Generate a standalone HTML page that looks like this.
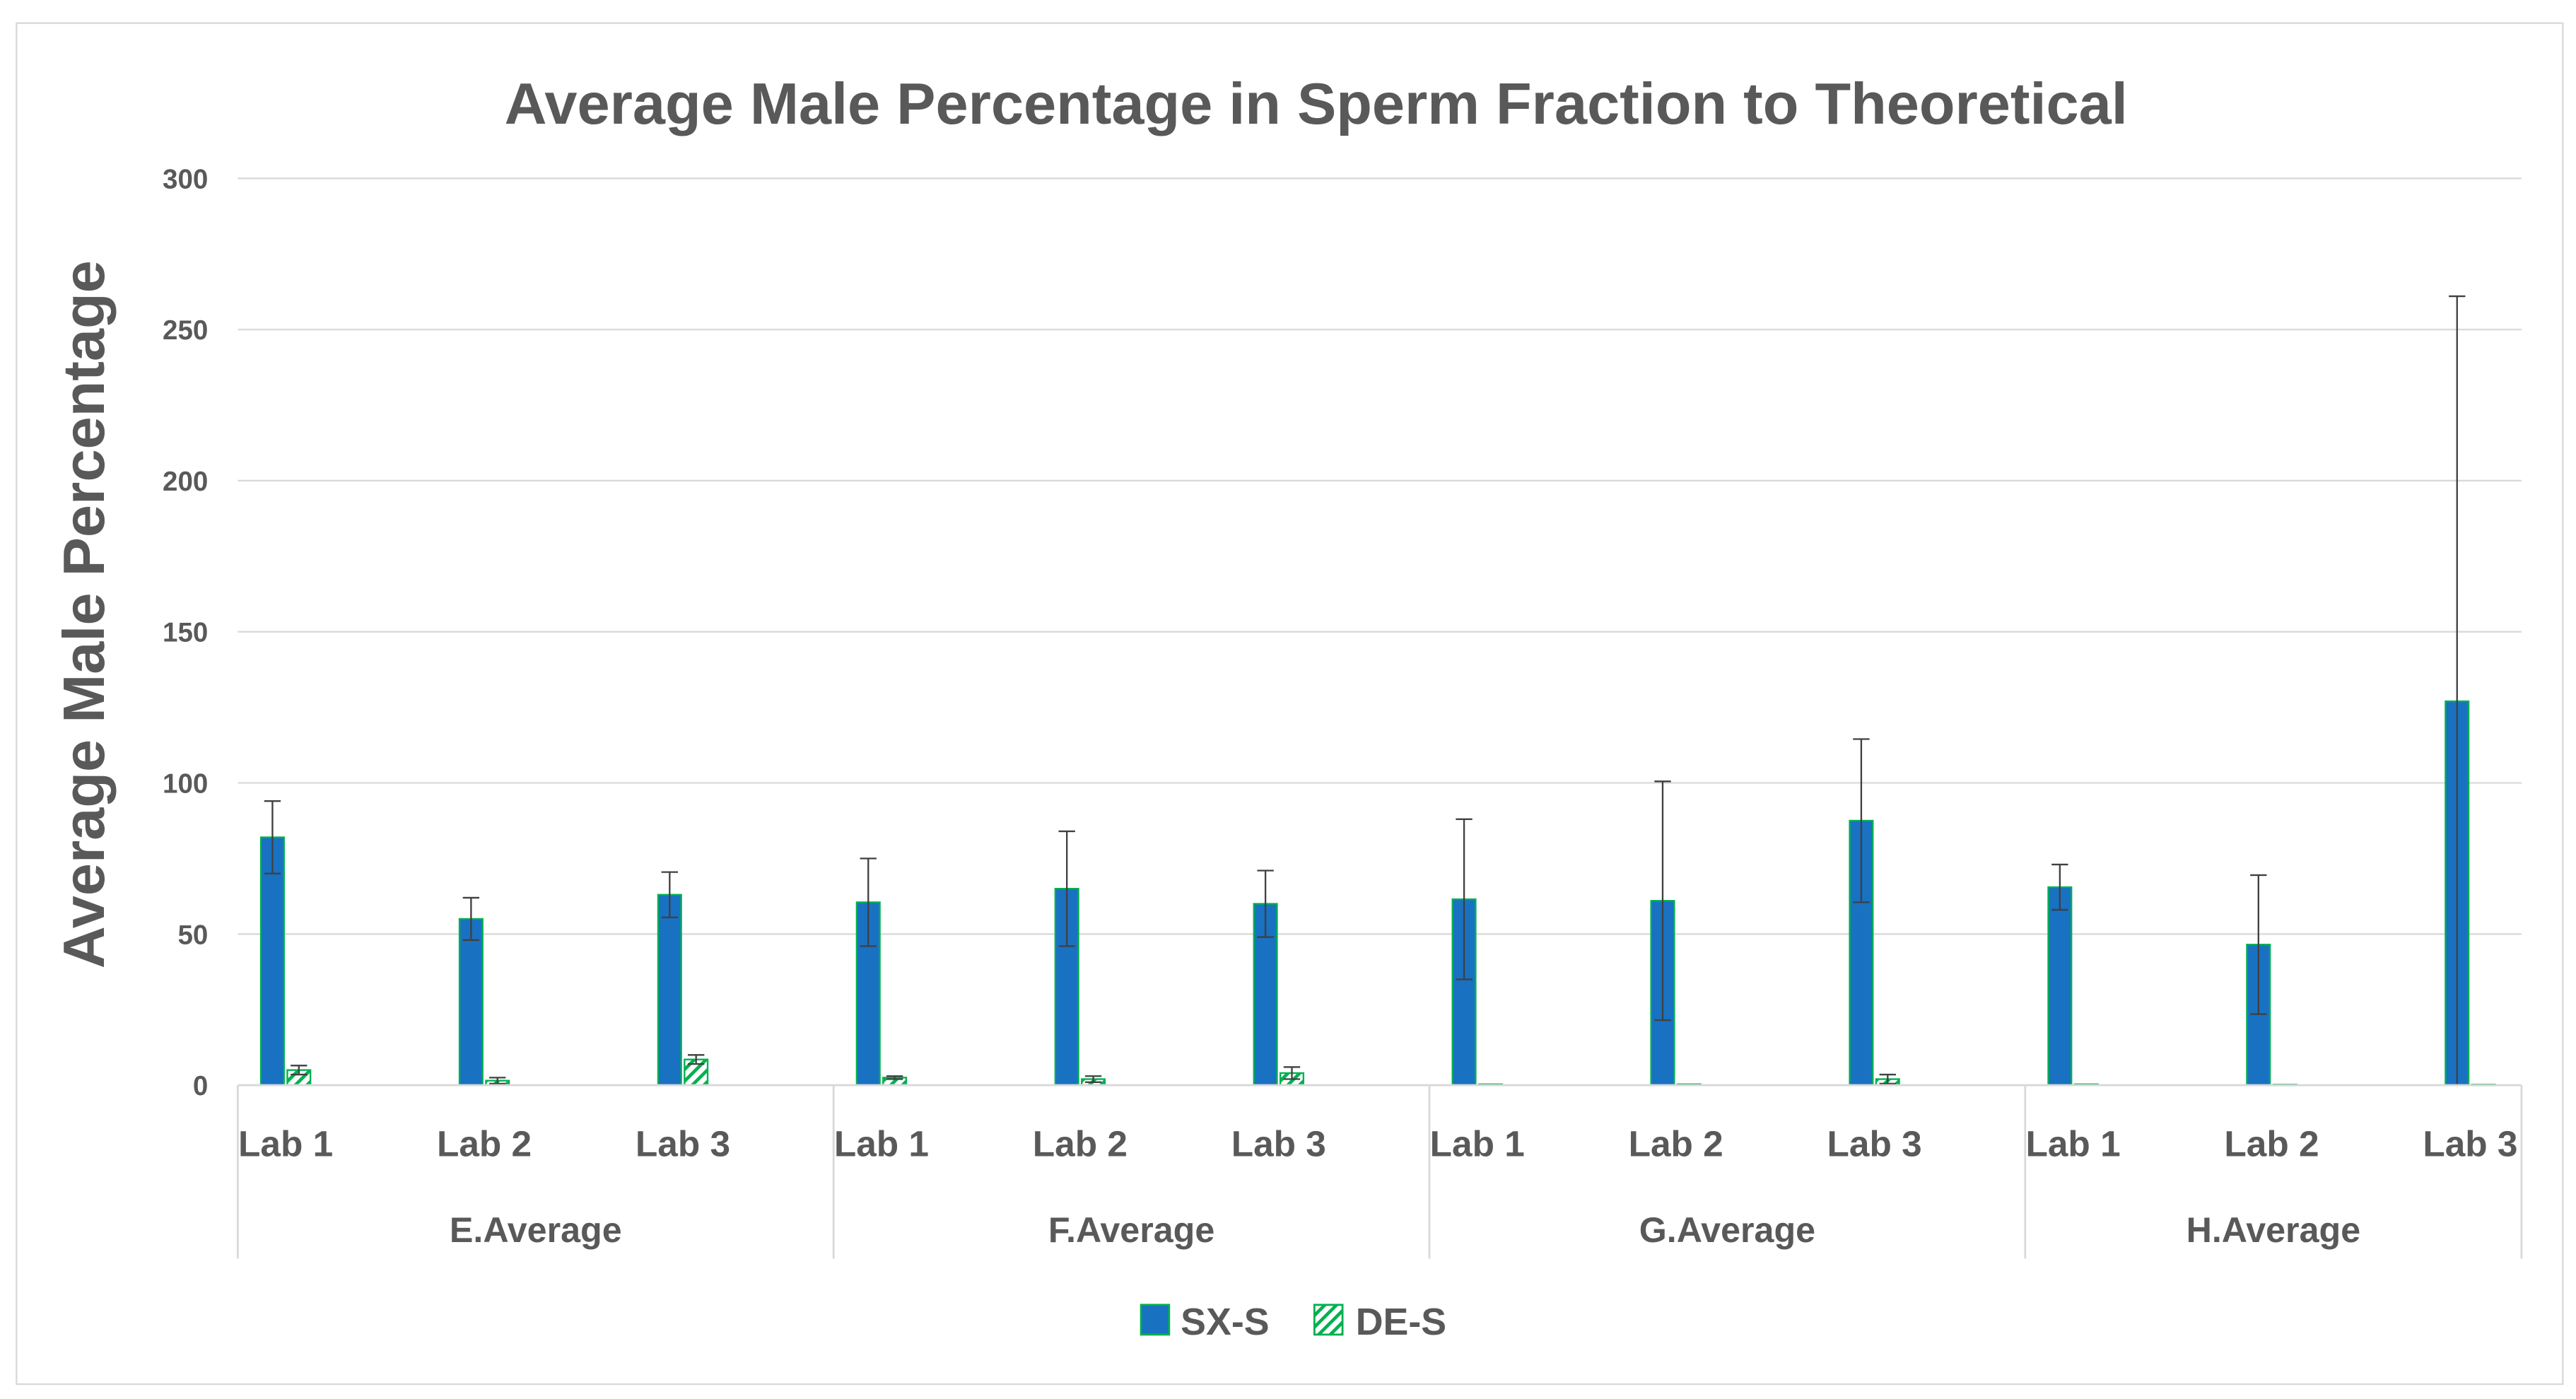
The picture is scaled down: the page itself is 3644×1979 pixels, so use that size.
<!DOCTYPE html>
<html><head><meta charset="utf-8"><style>
html,body{margin:0;padding:0;background:#fff}
svg{display:block}
text{font-family:"Liberation Sans",sans-serif;font-weight:bold;fill:#595959}
</style></head><body>
<svg id="chart" width="3644" height="1979" viewBox="0 0 1560 847" preserveAspectRatio="none" xmlns="http://www.w3.org/2000/svg">
<defs>
<pattern id="hatch" patternUnits="userSpaceOnUse" width="5" height="5" patternTransform="rotate(45)">
<rect width="5" height="5" fill="#fff"/><rect width="2" height="5" fill="#00B050"/>
</pattern>
</defs>
<rect x="10" y="14" width="1542" height="824" fill="#fff" stroke="#d9d9d9" stroke-width="1"/>
<text x="797" y="75" font-size="35.5" text-anchor="middle">Average Male Percentage in Sperm Fraction to Theoretical</text>
<text transform="translate(63,372) rotate(-90)" font-size="35.5" text-anchor="middle">Average Male Percentage</text>
<g id="grid"></g><g id="bars"></g><g id="xaxis"></g>
<g>
<rect x="691" y="790" width="17" height="18" fill="#1971C2" stroke="#00B050" stroke-width="1.2"/>
<text x="715" y="808" font-size="23">SX-S</text>
<rect x="796" y="790" width="17" height="18" fill="url(#hatch)" stroke="#00B050" stroke-width="1.2"/>
<text x="821" y="808" font-size="23">DE-S</text>
</g>
</svg>
<script>
const groups = ["E.Average","F.Average","G.Average","H.Average"];
const labs = ["Lab 1","Lab 2","Lab 3"];
const sxValues = [82,55,63, 60.5,65,60, 61.5,61,87.5, 65.5,46.5,127];
const sxErrors = [12,7,7.5, 14.5,19,11, 26.5,39.5,27, 7.5,23,134];
const deValues = [5,1.5,8.5, 2.5,2,4, 0.3,0.3,2, 0.3,0.2,0.2];
const deErrors = [1.5,1,1.5, 0.5,1,2, 0,0,1.5, 0,0,0];
const yTicks = [0,50,100,150,200,250,300];

const NS="http://www.w3.org/2000/svg";
const L=144,R=1527,T=108,B=657,yMax=300;
const y=v=>B-(Math.max(0,v)/yMax)*(B-T);
const catW=120.27;
const xc=i=>173+i*catW;
const gw=catW*3;
function mk(tag,attrs,parent,txt){const e=document.createElementNS(NS,tag);for(const k in attrs)e.setAttribute(k,attrs[k]);if(txt!==undefined)e.textContent=txt;parent.appendChild(e);return e;}
const grid=document.getElementById('grid'),bars=document.getElementById('bars'),xa=document.getElementById('xaxis');
yTicks.forEach(t=>{
  if(t>0){const g=mk('line',{x1:L,x2:R,y1:y(t),y2:y(t),stroke:'#d9d9d9','stroke-width':1},grid);
  
  }
  const tl=mk('text',{x:126,y:y(t)+6,'font-size':16.5,'text-anchor':'end'},grid,String(t));
  
  
});
function errBar(cx,v,e,name){
  const g=mk('g',{stroke:'#404040','stroke-width':1},bars);
  
  
  mk('line',{x1:cx,x2:cx,y1:y(v-e),y2:y(v+e)},g);
  mk('line',{x1:cx-5,x2:cx+5,y1:y(v+e),y2:y(v+e)},g);
  if(v-e>0) mk('line',{x1:cx-5,x2:cx+5,y1:y(v-e),y2:y(v-e)},g);
}
sxValues.forEach((v,i)=>{
  const c=xc(i), bx=c-15, w=14;
  const r=mk('rect',{x:bx,y:y(v),width:w,height:B-y(v),fill:'#1971C2',stroke:'#00B050','stroke-width':1},bars);
  
  
  errBar(bx+w/2,v,sxErrors[i],'error-bar-sx-s-'+i);
  const dv=deValues[i], dx=c+1;
  const d=mk('rect',{x:dx,y:y(dv),width:w,height:Math.max(B-y(dv),0.5),fill:'url(#hatch)',stroke:'#00B050','stroke-width':1},bars);
  
  
  if(deErrors[i]>0) errBar(dx+w/2,dv,deErrors[i],'error-bar-de-s-'+i);
});
const ax=mk('line',{x1:L,x2:R,y1:B,y2:B,stroke:'#d9d9d9','stroke-width':1.2},xa);


for(let g=0;g<=groups.length;g++){
  const sx=Math.min(L+g*gw,R);
  const s=mk('line',{x1:sx,x2:sx,y1:B,y2:762,stroke:'#d9d9d9','stroke-width':1.2},xa);
  
  
}
groups.forEach((gn,g)=>{
  const a=L+g*gw, b=Math.min(L+(g+1)*gw,R);
  const t=mk('text',{x:(a+b)/2,y:752,'font-size':21.5,'text-anchor':'middle'},xa,gn);
  
  
  labs.forEach((ln,k)=>{
    const i=g*3+k;
    const lt=mk('text',{x:xc(i),y:700,'font-size':22,'text-anchor':'middle'},xa,ln);
    
    
  });
});
</script>
</body></html>
